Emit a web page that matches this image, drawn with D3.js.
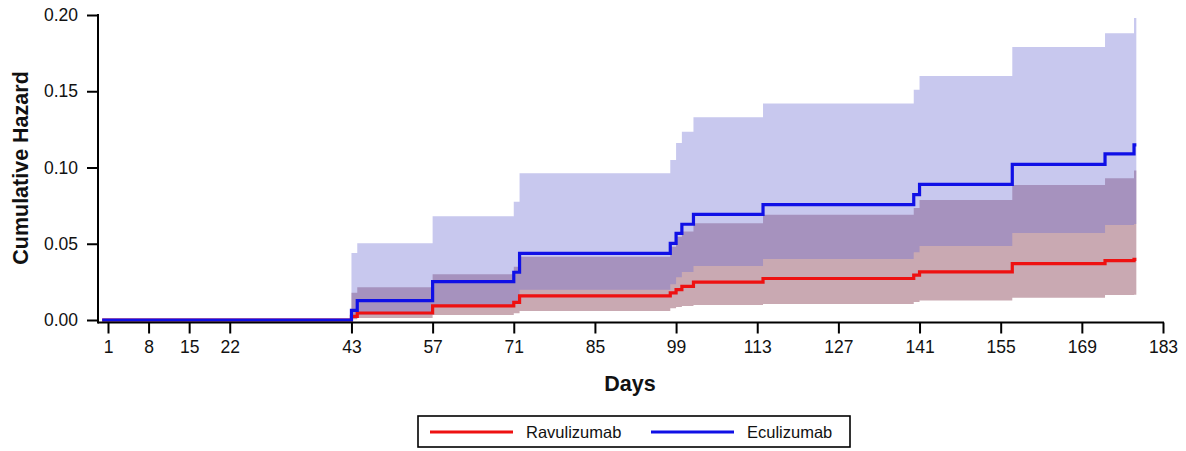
<!DOCTYPE html>
<html><head><meta charset="utf-8">
<script src="https://cdn.jsdelivr.net/npm/d3@7"></script>
<style>body{margin:0;background:#fff}svg{display:block}</style></head>
<body><svg id="c" width="1186" height="451"></svg>
<script>
// Step times (days) and cumulative hazard after each step
const days   = [0, 43, 44, 57, 71, 72, 98, 99, 100, 102, 114, 140, 141, 157, 173, 178];
const endDay = 178.4;
const ravu   = [0, 0.0024, 0.0046, 0.0092, 0.0115, 0.0158, 0.0178, 0.0199, 0.0220, 0.0248, 0.0272, 0.0294, 0.0316, 0.0370, 0.0390, 0.0398];
const ravuLo = [0, 0.0005, 0.0013, 0.0033, 0.0045, 0.0059, 0.0077, 0.0085, 0.0092, 0.0098, 0.0105, 0.0118, 0.0128, 0.0146, 0.0164, 0.0166];
const ravuHi = [0, 0.0179, 0.0214, 0.0300, 0.0350, 0.0415, 0.0480, 0.0546, 0.0580, 0.0634, 0.0690, 0.0735, 0.0787, 0.0885, 0.0930, 0.0980];
const ecu    = [0, 0.0063, 0.0127, 0.0251, 0.0313, 0.0437, 0.0503, 0.0568, 0.0628, 0.0692, 0.0757, 0.0822, 0.0890, 0.1020, 0.1089, 0.1148];
const ecuLo  = [0, 0.0010, 0.0035, 0.0090, 0.0120, 0.0198, 0.0235, 0.0280, 0.0315, 0.0354, 0.0400, 0.0445, 0.0485, 0.0570, 0.0623, 0.0630];
const ecuHi  = [0, 0.0440, 0.0503, 0.0680, 0.0776, 0.0962, 0.1050, 0.1160, 0.1235, 0.1330, 0.1420, 0.1510, 0.1600, 0.1790, 0.1880, 0.1980];
const xTicks = [1, 8, 15, 22, 43, 57, 71, 85, 99, 113, 127, 141, 155, 169, 183];
const yTicks = [0, 0.05, 0.10, 0.15, 0.20];
const seriesNames = ["Ravulizumab", "Eculizumab"];

const svg = d3.select("#c");
const FONT = "Arial, 'Liberation Sans', sans-serif";
const x = d3.scaleLinear().domain([1, 183]).range([108, 1163]);
const y = d3.scaleLinear().domain([0, 0.20]).range([320, 15]);
const axisY = 322.5, axisX = 98;

function rows(val, lo, hi, from) {
  const r = [];
  for (let i = from; i < days.length; i++) r.push({d: days[i], v: val[i], lo: lo ? lo[i] : 0, hi: hi ? hi[i] : 0});
  const last = r[r.length - 1];
  r.push({d: endDay, v: last.v, lo: last.lo, hi: last.hi});
  return r;
}

const area = d3.area().curve(d3.curveStepAfter)
  .x(d => x(d.d)).y0(d => y(d.lo)).y1(d => y(d.hi));
const line = d3.line().curve(d3.curveStepAfter)
  .x(d => x(d.d)).y(d => y(d.v));

// bands
svg.append("path").datum(rows(ravu, ravuLo, ravuHi, 1)).attr("d", area)
  .attr("fill", "rgb(201,169,178)");
svg.append("path").datum(rows(ecu, ecuLo, ecuHi, 1)).attr("d", area)
  .attr("fill", "rgb(110,110,210)").attr("fill-opacity", 0.38);

// lines
svg.append("path").datum(rows(ravu, null, null, 0)).attr("d", line)
  .attr("fill", "none").attr("stroke", "#ee1111").attr("stroke-width", 3.2);
svg.append("path").datum(rows(ecu, null, null, 0)).attr("d", line)
  .attr("fill", "none").attr("stroke", "#1010e6").attr("stroke-width", 3.2);

// axes
const gx = svg.append("g").attr("transform", `translate(0,${axisY})`)
  .call(d3.axisBottom(x).tickValues(xTicks).tickSize(11).tickSizeOuter(0).tickPadding(7));
gx.select(".domain").remove();
gx.selectAll(".tick line").attr("stroke", "#000").attr("stroke-width", 2);
gx.selectAll("text").attr("font-family", FONT).attr("font-size", 17.5).attr("fill", "#111");

const gy = svg.append("g").attr("transform", `translate(${axisX},0)`)
  .call(d3.axisLeft(y).tickValues(yTicks).tickFormat(d3.format(".2f")).tickSize(11).tickSizeOuter(0).tickPadding(9));
gy.select(".domain").remove();
gy.selectAll(".tick line").attr("stroke", "#000").attr("stroke-width", 2);
gy.selectAll("text").attr("font-family", FONT).attr("font-size", 17.5).attr("fill", "#111");

svg.append("line").attr("x1", axisX).attr("x2", axisX).attr("y1", y(0.2) - 1).attr("y2", axisY + 1)
  .attr("stroke", "#000").attr("stroke-width", 2);
svg.append("line").attr("x1", axisX).attr("x2", x(183) + 1).attr("y1", axisY).attr("y2", axisY)
  .attr("stroke", "#000").attr("stroke-width", 2);

// titles
svg.append("text").attr("transform", "translate(28,168) rotate(-90)")
  .attr("text-anchor", "middle").attr("font-family", FONT).attr("font-weight", "bold")
  .attr("font-size", 21.5).attr("fill", "#111").text("Cumulative Hazard");
svg.append("text").attr("x", 630).attr("y", 391)
  .attr("text-anchor", "middle").attr("font-family", FONT).attr("font-weight", "bold")
  .attr("font-size", 21.5).attr("fill", "#111").text("Days");

// legend
const lg = svg.append("g");
lg.append("rect").attr("x", 418).attr("y", 416).attr("width", 432).attr("height", 31)
  .attr("fill", "#fff").attr("stroke", "#000").attr("stroke-width", 1.6);
const legendItems = [
  {name: seriesNames[0], color: "#ee1111", x0: 430},
  {name: seriesNames[1], color: "#1010e6", x0: 651}
];
legendItems.forEach(it => {
  lg.append("line").attr("x1", it.x0).attr("x2", it.x0 + 83).attr("y1", 432).attr("y2", 432)
    .attr("stroke", it.color).attr("stroke-width", 3);
  lg.append("text").attr("x", it.x0 + 96).attr("y", 438).attr("font-family", FONT)
    .attr("font-size", 16.5).attr("fill", "#111").text(it.name);
});
</script>
</body></html>
